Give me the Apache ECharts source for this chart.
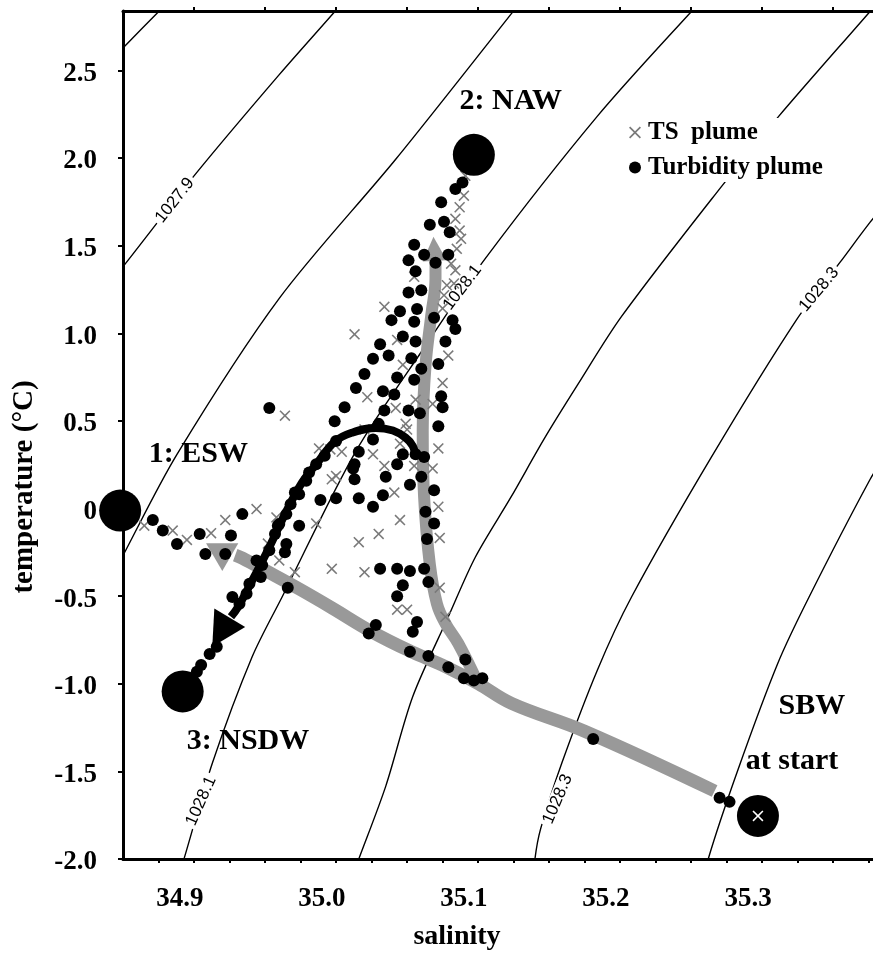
<!DOCTYPE html>
<html>
<head>
<meta charset="utf-8">
<title>TS diagram</title>
<script src="https://cdn.jsdelivr.net/npm/echarts@6/dist/echarts.min.js"></script>
<style>
  html, body { margin: 0; padding: 0; background: #fff; }
  #chart { width: 873px; height: 956px; }
</style>
</head>
<body>
<div id="chart"></div>
<script>
// axis ticks / labels
const salinityLabels = [34.9, 35.0, 35.1, 35.2, 35.3];
const salinityTicks = [34.885, 34.91, 34.935, 34.96, 34.985, 35.01, 35.035, 35.06, 35.085, 35.11,
  35.135, 35.16, 35.185, 35.21, 35.235, 35.26, 35.285, 35.31, 35.335, 35.36, 35.385];
const salinityTopTicks = [34.91, 34.96, 35.01, 35.06, 35.11, 35.16, 35.21, 35.26, 35.31, 35.36];
const tempLabels = [-2, -1.5, -1, -0.5, 0, 0.5, 1, 1.5, 2, 2.5];

// isopycnals [salinity, temperature]
const iso1027_8 = [[34.850, 2.545], [34.860, 2.628], [34.885, 2.835], [34.900, 2.959]];
const iso1027_9 = [[34.845, 1.23], [34.860, 1.380], [34.912, 1.918], [34.970, 2.476], [35.009, 2.835], [35.020, 2.94]];
const iso1028_0 = [[34.851, -0.412], [34.860, -0.268], [34.898, 0.309], [34.970, 1.199], [35.052, 1.993], [35.134, 2.830], [35.145, 2.947]];
const iso1028_1 = [[34.895, -2.208], [34.903, -1.998], [34.923, -1.451], [34.951, -0.845], [34.972, -0.505], [35.024, 0.328],
  [35.075, 0.953], [35.115, 1.426], [35.194, 2.239], [35.260, 2.835], [35.275, 2.96]];
const iso1028_2 = [[35.019, -2.151], [35.026, -2.000], [35.045, -1.584], [35.064, -1.073], [35.089, -0.618], [35.108, -0.278],
  [35.133, 0.063], [35.157, 0.404], [35.180, 0.705], [35.211, 1.096], [35.281, 1.834], [35.321, 2.232], [35.385, 2.828], [35.405, 3.015]];
const iso1028_3 = [[35.149, -2.15], [35.150, -2.000], [35.154, -1.828], [35.169, -1.451], [35.194, -0.921], [35.218, -0.505],
  [35.274, 0.290], [35.334, 1.075], [35.365, 1.407], [35.386, 1.634], [35.405, 1.823]];
const iso1028_4 = [[35.269, -2.15], [35.272, -2.000], [35.293, -1.489], [35.321, -0.883], [35.343, -0.505], [35.386, 0.167], [35.398, 0.318]];

// contour labels: [S, T, text, angle]
const isoLabels = [
  [34.8965, 1.758, '1027.9', 52],
  [35.099, 1.261, '1028.1', 53],
  [34.915, -1.669, '1028.1', 66],
  [35.350, 1.250, '1028.3', 50],
  [35.166, -1.659, '1028.3', 67]
];

// TS plume (crosses)
const tsPlume = [
  [35.101, 1.899], [35.100, 1.785], [35.097, 1.719], [35.094, 1.653], [35.097, 1.586], [35.098, 1.539], [35.095, 1.482],
  [35.094, 1.359], [35.088, 1.274], [35.093, 1.284], [35.086, 1.217], [35.065, 1.322], [35.044, 1.151], [35.085, 1.142],
  [35.091, 1.397], [35.023, 0.994], [35.053, 0.962], [35.057, 0.820], [35.089, 0.873], [35.085, 0.716], [35.032, 0.635],
  [35.052, 0.574], [35.066, 0.621], [35.078, 0.597], [35.059, 0.483], [35.060, 0.451], [35.030, 0.451], [34.974, 0.530],
  [34.998, 0.343], [35.014, 0.324], [35.036, 0.309], [35.055, 0.370], [35.082, 0.343], [35.044, 0.243], [35.065, 0.243],
  [35.078, 0.229], [35.007, 0.167], [35.010, 0.186], [35.051, 0.091], [35.082, 0.010], [34.996, -0.085], [35.055, -0.066],
  [35.040, -0.145], [35.026, -0.192], [35.083, -0.168], [34.981, -0.363], [35.007, -0.344], [35.030, -0.363], [35.083, -0.452],
  [35.053, -0.577], [35.060, -0.577], [35.087, -0.618], [34.875, -0.098], [34.895, -0.126], [34.905, -0.179], [34.922, -0.141],
  [34.932, -0.066], [34.954, -0.003], [34.968, -0.051], [34.962, -0.200], [34.970, -0.296], [35.006, 0.337]
];

// Turbidity plume (dots)
const turbidityPlume = [
  [35.099, 1.861], [35.094, 1.823], [35.084, 1.748], [35.086, 1.637], [35.090, 1.577], [35.076, 1.619], [35.065, 1.505],
  [35.072, 1.448], [35.089, 1.448], [35.080, 1.403], [35.061, 1.416], [35.066, 1.354], [35.070, 1.246], [35.061, 1.233],
  [35.067, 1.138], [35.055, 1.126], [35.049, 1.075], [35.065, 1.066], [35.079, 1.089], [35.092, 1.075], [35.094, 1.024],
  [35.057, 0.981], [35.066, 0.953], [35.041, 0.937], [35.087, 0.953], [35.036, 0.854], [35.047, 0.873], [35.063, 0.858],
  [35.082, 0.824], [35.070, 0.797], [35.030, 0.767], [35.053, 0.748], [35.065, 0.735], [35.024, 0.688], [35.043, 0.669],
  [35.051, 0.650], [35.084, 0.640], [35.085, 0.578], [35.016, 0.578], [35.044, 0.559], [35.061, 0.559], [35.069, 0.544],
  [35.009, 0.498], [35.040, 0.483], [35.082, 0.470], [35.036, 0.394], [35.026, 0.324], [35.053, 0.252], [35.057, 0.309],
  [35.066, 0.309], [35.072, 0.294], [35.022, 0.229], [35.070, 0.181], [35.045, 0.181], [35.023, 0.167], [35.062, 0.135],
  [35.079, 0.104], [35.010, 0.059], [35.026, 0.059], [35.043, 0.076], [35.036, 0.010], [34.999, 0.048], [35.073, -0.018],
  [35.079, -0.085], [35.074, -0.174], [35.041, -0.344], [35.053, -0.344], [35.062, -0.357], [35.072, -0.344], [35.075, -0.420],
  [35.057, -0.438], [35.053, -0.501], [35.067, -0.647], [35.064, -0.703], [35.062, -0.817], [35.075, -0.841], [35.089, -0.906],
  [35.101, -0.861], [35.100, -0.969], [35.107, -0.982], [35.113, -0.969], [35.038, -0.665], [35.033, -0.713], [35.191, -1.315],
  [35.280, -1.650], [35.287, -1.674], [34.976, -0.452], [35.010, 0.385], [35.023, 0.252], [34.989, 0.158], [34.984, 0.082],
  [34.978, 0.025], [34.984, -0.098], [34.975, -0.032], [34.969, -0.098], [34.975, -0.202], [34.974, -0.249], [34.967, -0.145],
  [34.944, -0.032], [34.936, -0.154], [34.932, -0.259], [34.918, -0.259], [34.914, -0.145], [34.954, -0.296], [34.957, -0.391],
  [34.949, -0.429], [34.947, -0.486], [34.942, -0.543], [34.937, -0.505], [34.926, -0.789], [34.921, -0.830], [34.915, -0.893],
  [34.912, -0.931], [34.881, -0.066], [34.888, -0.126], [34.898, -0.202], [34.963, 0.574], [34.970, -0.089], [34.996, 0.252],
  [35.002, 0.301], [34.991, 0.205], [34.981, 0.091], [34.963, -0.238], [34.958, -0.323]
];

// water masses
const endMemberNames = ['ESW', 'NAW', 'NSDW', 'SBW'];
const endMembers = [[34.858, -0.012], [35.107, 2.018], [34.902, -1.044], [35.307, -1.754]];

// text annotations
const annotationText = ['1: ESW', '2: NAW', '3: NSDW', 'SBW', 'at start'];
const annotationPos = [[34.913, 0.307], [35.133, 2.324], [34.948, -1.328], [35.345, -1.129], [35.331, -1.442]];

// spreading paths
const grayMainPath = [[35.2765, -1.612], [35.185, -1.271], [35.1335, -1.112], [35.110, -0.999], [35.087, -0.902], [35.063, -0.817],
  [35.035, -0.703], [35.007, -0.567], [34.984, -0.459], [34.961, -0.357], [34.944, -0.283], [34.939, -0.266]];
const grayUpPath = [[35.109, -0.982], [35.096, -0.770], [35.087, -0.656], [35.081, -0.543], [35.076, -0.318], [35.072, 0.063],
  [35.071, 0.443], [35.073, 0.818], [35.077, 1.102], [35.080, 1.312], [35.080, 1.414]];
const blackArcPath = [[35.066, 0.290], [35.064, 0.357], [35.059, 0.404], [35.050, 0.445], [35.038, 0.460], [35.021, 0.432],
  [35.009, 0.381], [34.996, 0.252], [34.986, 0.148], [34.974, -0.032], [34.963, -0.221], [34.951, -0.410], [34.941, -0.562], [34.936, -0.618]];
// arrow heads: [S, T, angle in degrees, counter-clockwise]
const grayHeads = [[34.927, -0.238, 60], [35.079, 1.482, 3]];
const blackHeads = [[34.929, -0.706, 149]];

const serif = 'Liberation Serif';
const crossPath = 'path://M1,0L5,4L9,0L10,1L6,5L10,9L9,10L5,6L1,10L0,9L4,5L0,1Z';

const chart = echarts.init(document.getElementById('chart'));

function isoSeries(data) {
  return {
    type: 'line', data: data, symbol: 'none', smooth: 0.3, silent: true, z: 1,
    lineStyle: { color: '#000', width: 1.4 }
  };
}

const option = {
  animation: false,
  backgroundColor: '#fff',
  grid: { left: 123, top: 11, right: -3, bottom: 93 },
  legend: {
    data: ['TS  plume', 'Turbidity plume'],
    left: 629, top: 118, orient: 'vertical',
    backgroundColor: '#fff', padding: [2, 4, 2, 0],
    itemWidth: 16, itemHeight: 12, itemGap: 10, selectedMode: false,
    textStyle: { fontFamily: serif, fontWeight: 'bold', fontSize: 25, color: '#000' }
  },
  xAxis: [{
    type: 'value', min: 34.86, max: 35.388,
    name: 'salinity', nameLocation: 'middle', nameGap: 64,
    nameTextStyle: { fontFamily: serif, fontWeight: 'bold', fontSize: 28, color: '#000', padding: [0, 82, 0, 0] },
    axisLine: { onZero: false, lineStyle: { color: '#000', width: 3 } },
    axisTick: { length: 4, lineStyle: { color: '#000', width: 2 }, customValues: salinityTicks },
    axisLabel: {
      customValues: salinityLabels, margin: 27,
      formatter: v => v.toFixed(1),
      fontFamily: serif, fontWeight: 'bold', fontSize: 27, color: '#000'
    },
    splitLine: { show: false }
  }, {
    type: 'value', position: 'top', min: 34.86, max: 35.388,
    axisLine: { onZero: false, lineStyle: { color: '#000', width: 3 } },
    axisTick: { length: 4, lineStyle: { color: '#000', width: 2 }, customValues: salinityTopTicks },
    axisLabel: { show: false },
    splitLine: { show: false }
  }],
  yAxis: {
    type: 'value', min: -2, max: 2.839,
    name: 'temperature (°C)', nameLocation: 'middle', nameGap: 84,
    nameTextStyle: { fontFamily: serif, fontWeight: 'bold', fontSize: 29, color: '#000', padding: [0, 104, 0, 0] },
    axisLine: { onZero: false, lineStyle: { color: '#000', width: 3 } },
    axisTick: { length: 5, lineStyle: { color: '#000', width: 2 }, customValues: tempLabels },
    axisLabel: {
      customValues: tempLabels, margin: 26,
      formatter: v => '{t|' + (v === 0 ? '0' : v.toFixed(1)) + '}',
      rich: {
        t: { padding: [7, 0, 0, 0], fontFamily: serif, fontWeight: 'bold', fontSize: 27, color: '#000' }
      },
      fontFamily: serif, fontWeight: 'bold', fontSize: 27, color: '#000'
    },
    splitLine: { show: false }
  },
  series: [
    isoSeries(iso1027_8), isoSeries(iso1027_9), isoSeries(iso1028_0), isoSeries(iso1028_1),
    isoSeries(iso1028_2), isoSeries(iso1028_3), isoSeries(iso1028_4),
    {
      type: 'scatter', z: 2, silent: true, symbolSize: 1,
      itemStyle: { color: 'rgba(0,0,0,0)', opacity: 1 },
      data: isoLabels.map(d => ({
        value: [d[0], d[1]],
        label: {
          show: true, position: 'inside', formatter: d[2], rotate: d[3],
          fontFamily: 'Liberation Sans', fontSize: 17, color: '#000',
          backgroundColor: '#fff', padding: [0, 3]
        }
      }))
    },
    {
      type: 'line', z: 3, data: grayMainPath, symbol: 'none', smooth: 0.4, silent: true,
      lineStyle: { color: '#999', width: 13, cap: 'butt' }
    },
    {
      type: 'line', z: 3, data: grayUpPath, symbol: 'none', smooth: 0.4, silent: true,
      lineStyle: { color: '#999', width: 12, cap: 'butt' }
    },
    {
      type: 'scatter', z: 3, silent: true, symbol: 'triangle',
      itemStyle: { color: '#999', opacity: 1 },
      data: grayHeads.map((d, i) => ({ value: [d[0], d[1]], symbolRotate: d[2], symbolSize: i === 0 ? [32, 28] : [24, 24] }))
    },
    {
      name: 'TS  plume', type: 'scatter', z: 4, symbol: crossPath, symbolSize: 11,
      itemStyle: { color: '#7a7a7a', opacity: 1 }, data: tsPlume
    },
    {
      type: 'line', z: 5, data: blackArcPath, symbol: 'none', smooth: 0.4, silent: true,
      lineStyle: { color: '#000', width: 8, cap: 'butt' }
    },
    {
      type: 'scatter', z: 5, silent: true, symbol: 'triangle',
      itemStyle: { color: '#000', opacity: 1 },
      data: blackHeads.map(d => ({ value: [d[0], d[1]], symbolRotate: d[2], symbolSize: [36, 34] }))
    },
    {
      name: 'Turbidity plume', type: 'scatter', z: 5, symbol: 'circle', symbolSize: 12,
      itemStyle: { color: '#000', opacity: 1 }, data: turbidityPlume
    },
    {
      type: 'scatter', z: 6, clip: false, silent: true, symbol: 'circle', symbolSize: 42,
      itemStyle: { color: '#000', opacity: 1 },
      data: endMembers.map((d, i) => ({ name: endMemberNames[i], value: d }))
    },
    {
      type: 'scatter', z: 7, silent: true, symbol: crossPath, symbolSize: 11,
      itemStyle: { color: '#fff', opacity: 1 }, data: [endMembers[3]]
    },
    {
      type: 'scatter', z: 8, silent: true, clip: false, symbolSize: 1,
      itemStyle: { color: 'rgba(0,0,0,0)', opacity: 1 },
      label: { show: true, position: 'inside', formatter: '{b}', fontFamily: serif, fontWeight: 'bold', fontSize: 30, color: '#000' },
      data: annotationPos.map((p, i) => ({ name: annotationText[i], value: p }))
    }
  ]
};

chart.setOption(option);
</script>
</body>
</html>
